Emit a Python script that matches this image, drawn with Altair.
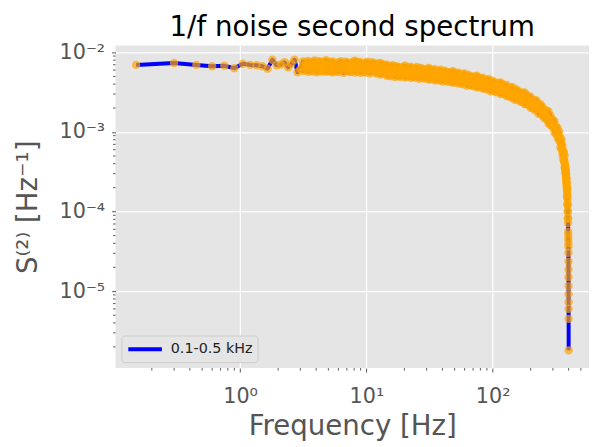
import altair as alt
import pandas as pd

# ---------------- data ----------------
# low-frequency, well separated points
sparse_freq = [0.15, 0.30, 0.45, 0.60, 0.75, 0.90, 1.05, 1.20, 1.35, 1.50,
               1.65, 1.80, 1.95, 2.10, 2.25, 2.40, 2.55, 2.70, 2.85, 3.00]
sparse_s2 = [0.00697, 0.00738, 0.00697, 0.00671, 0.00680, 0.00634, 0.00722, 0.00697, 0.00690, 0.00671,
             0.00625, 0.00810, 0.00690, 0.00705, 0.00752, 0.00650, 0.00720, 0.00810, 0.00565, 0.00620]

# dense band: upper, middle and lower points of the scatter at each frequency
dense_freq = [
    3.15, 3.30, 3.45, 3.60, 3.75, 3.90, 4.05, 4.20, 4.35, 4.50,
    4.65, 4.80, 5.10, 5.25, 5.40, 5.70, 6.00, 6.30, 6.60, 6.90,
    7.20, 7.50, 7.80, 8.10, 8.40, 8.70, 9.00, 9.45, 9.90, 10.20,
    10.65, 11.10, 11.55, 12.00, 12.45, 12.90, 13.50, 14.10, 14.55, 15.00,
    15.60, 16.20, 16.80, 17.40, 18.00, 18.75, 19.50, 20.25, 21.00, 21.75,
    22.50, 23.40, 24.30, 25.20, 26.10, 27.00, 28.05, 29.10, 30.15, 31.20,
    32.40, 33.60, 34.80, 36.00, 37.35, 38.70, 40.20, 41.70, 43.20, 44.85,
    46.50, 48.30, 50.10, 51.90, 53.85, 55.80, 57.90, 60.00, 62.25, 64.50,
    66.90, 69.45, 72.00, 74.70, 77.40, 80.25, 83.25, 86.40, 89.55, 92.85,
    96.30, 99.90, 103.65, 107.40, 111.45, 115.50, 119.85, 124.20, 128.85, 133.65,
    138.60, 143.70, 149.10, 154.65, 160.35, 166.35, 172.50, 178.95, 185.55, 192.45,
    199.65, 207.00, 214.65, 222.60, 230.85, 239.40, 248.25, 257.40, 267.00, 276.90,
    287.10, 297.75, 308.85, 318.00, 327.00, 336.00, 344.25, 351.00, 357.00, 362.40,
    367.20, 371.40,
]
dense_hi = [
    0.00771, 0.00750, 0.00784, 0.00737, 0.00764, 0.00791, 0.00744, 0.00777, 0.00757, 0.00730,
    0.00771, 0.00797, 0.00759, 0.00739, 0.00772, 0.00726, 0.00752, 0.00779, 0.00733, 0.00766,
    0.00746, 0.00719, 0.00759, 0.00785, 0.00759, 0.00739, 0.00761, 0.00715, 0.00741, 0.00767,
    0.00722, 0.00754, 0.00735, 0.00687, 0.00725, 0.00738, 0.00713, 0.00683, 0.00702, 0.00649,
    0.00670, 0.00690, 0.00647, 0.00674, 0.00653, 0.00628, 0.00660, 0.00681, 0.00656, 0.00636,
    0.00662, 0.00619, 0.00640, 0.00658, 0.00616, 0.00640, 0.00619, 0.00594, 0.00621, 0.00639,
    0.00613, 0.00592, 0.00615, 0.00574, 0.00591, 0.00607, 0.00568, 0.00589, 0.00568, 0.00543,
    0.00568, 0.00582, 0.00558, 0.00539, 0.00557, 0.00518, 0.00531, 0.00544, 0.00506, 0.00523,
    0.00503, 0.00480, 0.00499, 0.00509, 0.00486, 0.00469, 0.00483, 0.00447, 0.00456, 0.00464,
    0.00430, 0.00441, 0.00423, 0.00400, 0.00414, 0.00420, 0.00399, 0.00381, 0.00390, 0.00358,
    0.00363, 0.00366, 0.00335, 0.00342, 0.00324, 0.00304, 0.00313, 0.00314, 0.00294, 0.00277,
    0.00278, 0.00252, 0.00251, 0.00249, 0.00224, 0.00224, 0.00207, 0.00189, 0.00187, 0.00181,
    0.00161, 0.00144, 0.00137, 0.00118, 0.00112, 0.00102, 0.000849, 0.000791, 0.000679, 0.000583,
    0.000537, 0.000503,
]
dense_mid = [
    0.00670, 0.00650, 0.00690, 0.00677, 0.00643, 0.00697, 0.00663, 0.00683, 0.00657, 0.00704,
    0.00637, 0.00670, 0.00660, 0.00640, 0.00680, 0.00667, 0.00634, 0.00686, 0.00653, 0.00673,
    0.00647, 0.00693, 0.00627, 0.00660, 0.00660, 0.00640, 0.00670, 0.00657, 0.00624, 0.00676,
    0.00644, 0.00663, 0.00637, 0.00662, 0.00599, 0.00620, 0.00620, 0.00592, 0.00618, 0.00596,
    0.00564, 0.00608, 0.00577, 0.00593, 0.00566, 0.00605, 0.00545, 0.00572, 0.00570, 0.00551,
    0.00583, 0.00569, 0.00539, 0.00580, 0.00549, 0.00563, 0.00537, 0.00572, 0.00513, 0.00537,
    0.00533, 0.00513, 0.00542, 0.00527, 0.00497, 0.00535, 0.00507, 0.00518, 0.00493, 0.00523,
    0.00469, 0.00489, 0.00485, 0.00467, 0.00490, 0.00476, 0.00447, 0.00479, 0.00451, 0.00460,
    0.00436, 0.00462, 0.00412, 0.00428, 0.00423, 0.00406, 0.00425, 0.00410, 0.00384, 0.00409,
    0.00383, 0.00388, 0.00367, 0.00385, 0.00342, 0.00353, 0.00347, 0.00330, 0.00343, 0.00328,
    0.00305, 0.00322, 0.00299, 0.00301, 0.00281, 0.00293, 0.00258, 0.00264, 0.00256, 0.00240,
    0.00245, 0.00231, 0.00211, 0.00219, 0.00200, 0.00197, 0.00179, 0.00182, 0.00155, 0.00152,
    0.00140, 0.00125, 0.00121, 0.00108, 0.000946, 0.000896, 0.000757, 0.000696, 0.000589, 0.000562,
    0.000444, 0.000423,
]
dense_lo = [
    0.00583, 0.00603, 0.00570, 0.00590, 0.00576, 0.00610, 0.00563, 0.00596, 0.00583, 0.00576,
    0.00603, 0.00570, 0.00574, 0.00594, 0.00561, 0.00581, 0.00568, 0.00601, 0.00554, 0.00587,
    0.00574, 0.00568, 0.00594, 0.00561, 0.00574, 0.00594, 0.00553, 0.00572, 0.00559, 0.00592,
    0.00546, 0.00579, 0.00566, 0.00542, 0.00567, 0.00527, 0.00539, 0.00549, 0.00510, 0.00519,
    0.00506, 0.00532, 0.00490, 0.00517, 0.00503, 0.00495, 0.00517, 0.00486, 0.00496, 0.00511,
    0.00481, 0.00495, 0.00482, 0.00508, 0.00466, 0.00491, 0.00477, 0.00469, 0.00486, 0.00456,
    0.00464, 0.00476, 0.00447, 0.00459, 0.00445, 0.00468, 0.00430, 0.00452, 0.00438, 0.00428,
    0.00445, 0.00416, 0.00422, 0.00433, 0.00405, 0.00414, 0.00401, 0.00420, 0.00383, 0.00401,
    0.00387, 0.00378, 0.00391, 0.00364, 0.00368, 0.00377, 0.00351, 0.00357, 0.00344, 0.00358,
    0.00325, 0.00338, 0.00325, 0.00316, 0.00324, 0.00300, 0.00302, 0.00306, 0.00283, 0.00286,
    0.00273, 0.00282, 0.00254, 0.00263, 0.00250, 0.00240, 0.00245, 0.00224, 0.00223, 0.00222,
    0.00202, 0.00202, 0.00189, 0.00192, 0.00170, 0.00172, 0.00159, 0.00149, 0.00147, 0.00129,
    0.00122, 0.00116, 0.000995, 0.000942, 0.000847, 0.000784, 0.000643, 0.000607, 0.000523, 0.000460,
    0.000420, 0.000360,
]

# steep drop close to the upper band edge
tail_freq = [374.10, 374.70, 375.30, 375.90, 376.50, 377.10, 377.70, 378.30, 378.90, 379.50,
             380.10, 380.70, 381.30, 381.90, 382.50, 383.10, 383.70, 384.30, 384.90, 385.50,
             386.10, 386.70, 387.30, 387.90, 388.50, 389.10, 389.70, 390.30, 390.90, 391.50,
             392.10, 392.70, 393.30, 393.90, 394.50, 395.10, 395.70, 396.30, 396.90, 397.50,
             398.10, 398.40, 398.55, 398.70, 398.85, 399.00, 399.15, 399.30, 399.45, 399.60,
             399.75, 399.90]
tail_s2 = [0.000396, 0.000351, 0.000368, 0.000342, 0.000366, 0.000318, 0.000329, 0.000334, 0.000300, 0.000314,
           0.000282, 0.000303, 0.000294, 0.000258, 0.000269, 0.000247, 0.000262, 0.000225, 0.000230, 0.000230,
           0.000204, 0.000210, 0.000185, 0.000196, 0.000187, 0.000161, 0.000163, 0.000146, 0.000151, 0.000125,
           0.000124, 0.000120, 0.000102, 0.0000992, 0.0000827, 0.0000817, 0.0000718, 0.0000560, 0.0000506, 0.0000450,
           0.0000400, 0.0000363, 0.0000305, 0.0000236, 0.0000188, 0.0000150, 0.0000116, 0.0000092, 0.0000073, 0.0000060,
           0.0000045, 0.00000181]

series_label = "0.1-0.5 kHz"

x_tick_values = [1, 10, 100]
x_tick_labels = ["10⁰", "10¹", "10²"]
y_tick_values = [1e-5, 1e-4, 1e-3, 1e-2]
y_tick_labels = ["10⁻⁵", "10⁻⁴", "10⁻³", "10⁻²"]

x_minor = [0.2, 0.3, 0.4, 0.5, 0.6, 0.7, 0.8, 0.9,
           2, 3, 4, 5, 6, 7, 8, 9,
           20, 30, 40, 50, 60, 70, 80, 90,
           200, 300, 400, 500]
y_minor = [2e-6, 3e-6, 4e-6, 5e-6, 6e-6, 7e-6, 8e-6, 9e-6,
           2e-5, 3e-5, 4e-5, 5e-5, 6e-5, 7e-5, 8e-5, 9e-5,
           2e-4, 3e-4, 4e-4, 5e-4, 6e-4, 7e-4, 8e-4, 9e-4,
           2e-3, 3e-3, 4e-3, 5e-3, 6e-3, 7e-3, 8e-3, 9e-3]

x_domain = [0.1031, 579.7]
y_domain = [1.084e-6, 0.01222]

title_text = "1/f noise second spectrum"
x_title = "Frequency [Hz]"
y_title = "S⁽²⁾ [Hz⁻¹]"

# ---------------- table ----------------
rows_f, rows_s = list(sparse_freq), list(sparse_s2)
for i, f in enumerate(dense_freq):
    trio = [dense_hi[i], dense_mid[i], dense_lo[i]]
    if i % 2:
        trio.reverse()
    for v in trio:
        rows_f.append(f)
        rows_s.append(v)
rows_f += tail_freq
rows_s += tail_s2
df = pd.DataFrame({"freq": rows_f, "s2": rows_s, "band": [series_label] * len(rows_f)})

# ---------------- chart ----------------
W, H = 480, 327
FONT = "DejaVu Sans"
GREY = "#555555"


def label_expr(values, labels):
    expr = "'" + labels[-1] + "'"
    for v, lab in zip(reversed(values[:-1]), reversed(labels[:-1])):
        expr = f"datum.value < {v * 1.5} ? '{lab}' : ({expr})"
    return expr


xs = alt.Scale(type="log", domain=x_domain, nice=False)
ys = alt.Scale(type="log", domain=y_domain, nice=False)

x_axis = alt.Axis(values=x_tick_values, labelExpr=label_expr(x_tick_values, x_tick_labels),
                  title=x_title, titleY=67, titleBaseline="alphabetic",
                  labelPadding=14, tickSize=4)
y_axis = alt.Axis(values=y_tick_values, labelExpr=label_expr(y_tick_values, y_tick_labels),
                  title=y_title, titleX=-80, titleY=H / 2, titleAngle=270,
                  titleBaseline="alphabetic", titleAlign="center",
                  labelPadding=7, tickSize=4)

line = alt.Chart(df).mark_line(strokeWidth=4, strokeJoin="round").encode(
    x=alt.X("freq:Q", scale=xs, axis=x_axis),
    y=alt.Y("s2:Q", scale=ys, axis=y_axis),
    color=alt.Color("band:N", scale=alt.Scale(domain=[series_label], range=["blue"]),
                    legend=alt.Legend(title=None, orient="bottom-left", offset=6, padding=5,
                                      fillColor="#E5E5E5", strokeColor="#CCCCCC", cornerRadius=3,
                                      symbolType="M-2.43,0H2.43", symbolStrokeWidth=4, symbolSize=196,
                                      symbolOffset=10,
                                      labelFont=FONT, labelFontSize=14.5, labelColor="#222222",
                                      labelOffset=17)),
)

points = alt.Chart(df).mark_circle(size=72, color="orange", opacity=0.7).encode(
    x=alt.X("freq:Q", scale=xs, axis=x_axis),
    y=alt.Y("s2:Q", scale=ys, axis=y_axis),
)

ymin = alt.Chart(pd.DataFrame({"v": y_minor})).mark_rule(color=GREY, strokeWidth=1).encode(
    y=alt.Y("v:Q", scale=ys, axis=y_axis),
    x=alt.value(-2.5),
    x2=alt.value(0),
)
xmin = alt.Chart(pd.DataFrame({"v": x_minor})).mark_rule(color=GREY, strokeWidth=1).encode(
    x=alt.X("v:Q", scale=xs, axis=x_axis),
    y=alt.value(H),
    y2=alt.value(H + 2.5),
)

chart = alt.layer(line, points, ymin, xmin).properties(
    width=W,
    height=H,
    title=alt.TitleParams(text=title_text, font=FONT, fontSize=28, fontWeight="normal",
                          color="#000000", anchor="middle", offset=0),
    autosize=alt.AutoSizeParams(type="none"),
    padding={"left": 109, "top": 35, "right": 1, "bottom": 77},
).configure_view(
    fill="#E5E5E5", strokeWidth=0
).configure_axis(
    domain=False, grid=True, gridColor="white", gridWidth=1.2,
    tickColor=GREY, tickWidth=1,
    labelColor=GREY, labelFont=FONT, labelFontSize=21,
    titleColor=GREY, titleFont=FONT, titleFontSize=28, titleFontWeight="normal",
)

chart.save("out.html", embed_options={"renderer": "svg", "actions": False})
